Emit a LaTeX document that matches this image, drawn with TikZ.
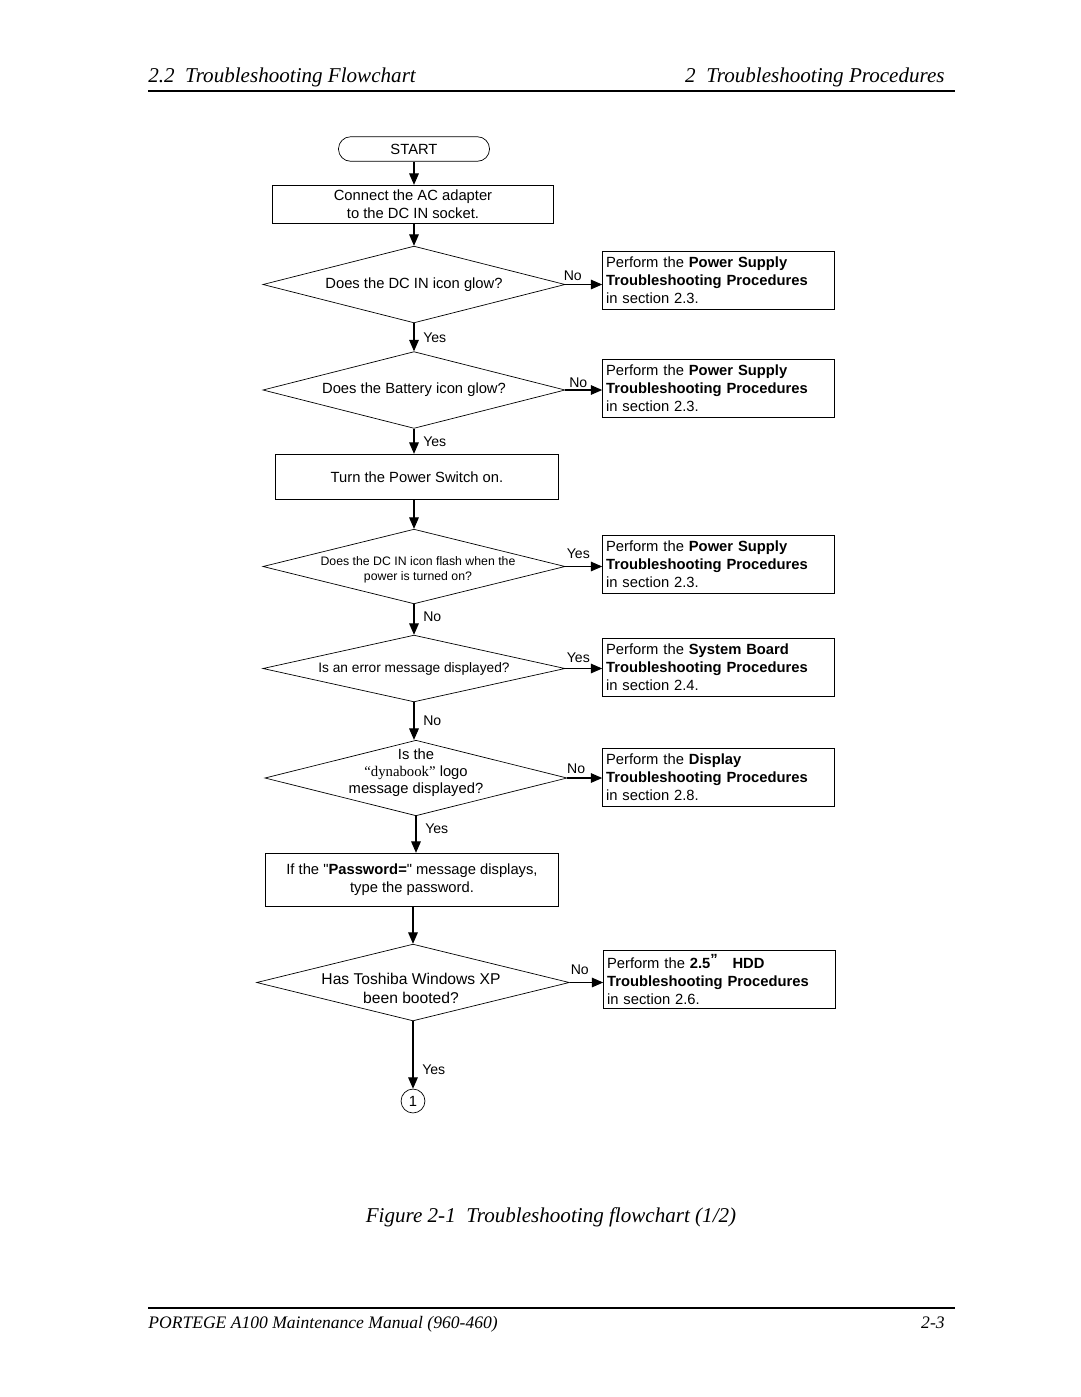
\documentclass[tikz,border=0pt]{standalone}
\usepackage{fontspec}
\setmainfont{Liberation Serif}
\newfontfamily\chartfont{Liberation Sans}
\usetikzlibrary{shapes.geometric,shapes.misc,arrows.meta}

\begin{document}
\begin{tikzpicture}[x=0.02cm,y=-0.02cm,
  every node/.style={font=\chartfont\fontsize{8.4}{10.2}\selectfont},
  startbox/.style={draw,rounded rectangle,minimum width=86pt,minimum height=14pt,inner sep=0pt},
  actbox/.style={draw,align=center,inner sep=0pt},
  ask/.style={draw,diamond,inner sep=0pt,minimum width=172pt,minimum height=43.7pt},
  asktext/.style={align=center,inner sep=0pt},
  resbox/.style={draw,align=left,text width=128pt,minimum height=33pt,inner xsep=2pt,inner ysep=0pt},
  arr/.style={-{Triangle[length=6.5pt,width=5.5pt]},line width=0.6pt},
  yn/.style={font=\chartfont\fontsize{8}{9}\selectfont,inner sep=1pt},
  pagetext/.style={font=\rmfamily\itshape\fontsize{12}{14}\selectfont,inner sep=0pt}]
\useasboundingbox (0,0) rectangle (1080,1397);

\node[pagetext,anchor=base west] (headl) at (148,82) {2.2\enspace Troubleshooting Flowchart};
\node[pagetext,anchor=base east] (headr) at (945,82) {2\enspace Troubleshooting Procedures};
\draw[line width=1.5pt] (148,91) -- (955,91);

\node[startbox] (start) at (414,149) {START};
\node[actbox,minimum width=160pt,minimum height=22pt] (connect) at (413,204.5) {Connect the AC adapter\\to the DC IN socket.};
\node[ask] (dcin) at (414,284.5) {};
\node[asktext] (dcint) at (dcin) {Does the DC IN icon glow?};
\node[resbox] (pwr1) at (718.5,280) {Perform the \textbf{Power Supply}\\\textbf{Troubleshooting Procedures}\\in section 2.3.};
\node[ask] (battery) at (414,390) {};
\node[asktext] (batteryt) at (battery) {Does the Battery icon glow?};
\node[resbox] (pwr2) at (718.5,388) {Perform the \textbf{Power Supply}\\\textbf{Troubleshooting Procedures}\\in section 2.3.};
\node[actbox,minimum width=161pt,minimum height=26pt] (switchon) at (417,477) {Turn the Power Switch on.};
\node[ask,minimum height=42.5pt] (flash) at (414,566.5) {};
\node[asktext,font=\chartfont\fontsize{7}{8.6}\selectfont] (flasht) at (418,570) {Does the DC IN icon flash when the\\power is turned on?};
\node[resbox] (pwr3) at (718.5,564) {Perform the \textbf{Power Supply}\\\textbf{Troubleshooting Procedures}\\in section 2.3.};
\node[ask,minimum height=38pt] (errmsg) at (414,668.5) {};
\node[asktext,font=\chartfont\fontsize{7.8}{9}\selectfont] (errmsgt) at (errmsg) {Is an error message displayed?};
\node[resbox] (sysbrd) at (718.5,667.5) {Perform the \textbf{System Board}\\\textbf{Troubleshooting Procedures}\\in section 2.4.};
\node[ask,minimum height=43pt] (logo) at (416,778) {};
\node[asktext,font=\chartfont\fontsize{8.4}{9.6}\selectfont] (logot) at (416,773) {Is the\\{\rmfamily “dynabook”} logo\\message displayed?};
\node[resbox] (disp) at (718.5,777) {Perform the \textbf{Display}\\\textbf{Troubleshooting Procedures}\\in section 2.8.};
\node[actbox,minimum width=167pt,minimum height=30pt] (passwd) at (412,879.5) {If the "\textbf{Password=}" message displays,\\type the password.};
\node[ask,minimum width=178pt] (booted) at (413,982.5) {};
\node[asktext,font=\chartfont\fontsize{8.9}{10.8}\selectfont] (bootedt) at (411,988) {Has Toshiba Windows XP\\been booted?};
\node[resbox] (hdd) at (719.5,979.5) {Perform the \textbf{2.5}\raisebox{.6ex}{\textbf{”}}\quad\textbf{HDD}\\\textbf{Troubleshooting Procedures}\\in section 2.6.};
\node[draw,circle,minimum size=13.6pt,inner sep=0pt] (cont) at (413,1101) {1};

\draw[arr] (start.south) -- (start.south |- connect.north);
\draw[arr] (connect.south -| dcin.north) -- (dcin.north);
\draw[arr] (dcin.south) -- node[yn,right,xshift=4pt] (yes1) {Yes} (dcin.south |- battery.north);
\draw[arr] (dcin.east) -- node[yn,above,pos=0.2,yshift=1pt] (no1) {No} (dcin.east -| pwr1.west);
\draw[arr] (battery.south) -- node[yn,right,xshift=4pt] (yes2) {Yes} (battery.south |- switchon.north);
\draw[arr] (battery.east) -- node[yn,above,pos=0.35] (no2) {No} (battery.east -| pwr2.west);
\draw[arr] (switchon.south -| flash.north) -- (flash.north);
\draw[arr] (flash.east) -- node[yn,above,pos=0.35,yshift=3pt] (yes3) {Yes} (flash.east -| pwr3.west);
\draw[arr] (flash.south) -- node[yn,right,xshift=4pt,pos=0.4] (no3) {No} (flash.south |- errmsg.north);
\draw[arr] (errmsg.east) -- node[yn,above,pos=0.35,yshift=2pt] (yes4) {Yes} (errmsg.east -| sysbrd.west);
\draw[arr] (errmsg.south) -- node[yn,right,xshift=4pt] (no4) {No} (errmsg.south |- logo.north);
\draw[arr] (logo.east) -- node[yn,above,pos=0.25,yshift=1pt] (no5) {No} (logo.east -| disp.west);
\draw[arr] (logo.south) -- node[yn,right,xshift=4pt,pos=0.35] (yes5) {Yes} (logo.south |- passwd.north);
\draw[arr] (passwd.south -| booted.north) -- (booted.north);
\draw[arr] (booted.east) -- node[yn,above,pos=0.3,yshift=3pt] (no6) {No} (booted.east -| hdd.west);
\draw[arr] (booted.south) -- node[yn,right,xshift=4pt,pos=0.72] (yes6) {Yes} (cont.north);

\node[pagetext] (caption) at (551,1217) {Figure 2-1\enspace Troubleshooting flowchart (1/2)};
\draw[line width=1.3pt] (148,1308) -- (955,1308);
\node[pagetext,font=\rmfamily\itshape\fontsize{10}{12}\selectfont,anchor=base west] (footl) at (148,1328) {PORTEGE A100 Maintenance Manual (960-460)};
\node[pagetext,font=\rmfamily\itshape\fontsize{10}{12}\selectfont,anchor=base east] (footr) at (945,1328) {2-3};
\end{tikzpicture}
\end{document}
